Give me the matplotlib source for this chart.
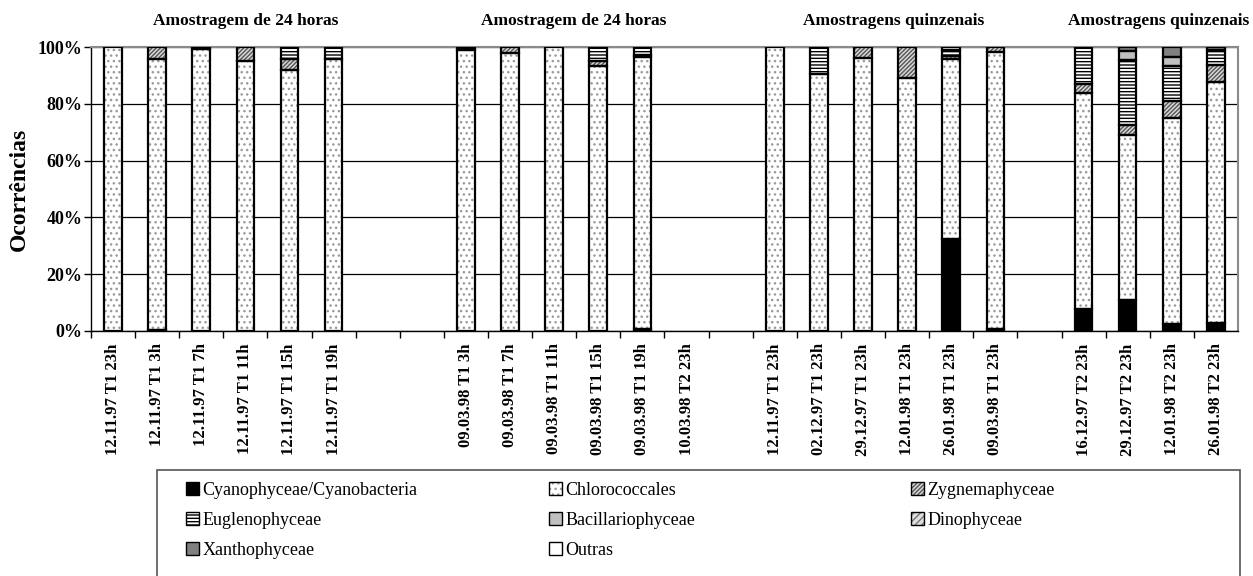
import matplotlib.pyplot as plt
from matplotlib.patches import Patch, Rectangle
import matplotlib.transforms as mtransforms
import numpy as np

plt.rcParams['font.family'] = ['Liberation Serif', 'DejaVu Serif']

# Sample labels (empty strings are gaps between groups)
labels = ["12.11.97 T1 23h", "12.11.97 T1 3h", "12.11.97 T1 7h", "12.11.97 T1 11h",
          "12.11.97 T1 15h", "12.11.97 T1 19h", "", "",
          "09.03.98 T1 3h", "09.03.98 T1 7h", "09.03.98 T1 11h", "09.03.98 T1 15h",
          "09.03.98 T1 19h", "10.03.98 T2 23h", "",
          "12.11.97 T1 23h", "02.12.97 T1 23h", "29.12.97 T1 23h", "12.01.98 T1 23h",
          "26.01.98 T1 23h", "09.03.98 T1 23h", "",
          "16.12.97 T2 23h", "29.12.97 T2 23h", "12.01.98 T2 23h", "26.01.98 T2 23h"]

# Percentages
cyano   = [0, 0.3, 0, 0, 0, 0, 0, 0, 0, 0, 0, 0, 0.7, 0, 0, 0, 0, 0, 0, 32.3, 0.5, 0, 7.6, 10.9, 2.4, 2.6]
chloro  = [100, 95.6, 99.5, 95.3, 92, 95.8, 0, 0, 99, 97.9, 100, 93.5, 95.8, 0, 0,
           100, 90.6, 96.1, 89.1, 63.6, 97.7, 0, 76.2, 58.3, 72.6, 85.3]
zygnema = [0, 4.1, 0.5, 4.7, 4.0, 0, 0, 0, 0, 2.1, 0, 1.8, 0.8, 0, 0,
           0, 0, 3.9, 10.9, 1.0, 1.8, 0, 3.3, 3.5, 6.2, 5.9]
eugleno = [0, 0, 0, 0, 4.0, 4.2, 0, 0, 1.0, 0, 0, 4.7, 2.7, 0, 0,
           0, 9.4, 0, 0, 2.0, 0, 0, 12.9, 22.9, 12.3, 5.1]
bacil   = [0] * 23 + [2.9, 3.2, 0]
dino    = [0] * 26
xantho  = [0] * 23 + [1.5, 3.3, 1.2]
outras  = [0] * 19 + [1.1] + [0] * 6

group_titles = ["Amostragem de 24 horas", "Amostragem de 24 horas",
                "Amostragens quinzenais", "Amostragens quinzenais"]
group_centers = [3.0, 10.45, 17.7, 23.7]

series = [
    ("Cyanophyceae/Cyanobacteria", cyano, "black", None, "black"),
    ("Chlorococcales", chloro, "white", "...", "#9a9a9a"),
    ("Zygnemaphyceae", zygnema, "#d8d8d8", "////////", "#555555"),
    ("Euglenophyceae", eugleno, "white", "-----", "black"),
    ("Bacillariophyceae", bacil, "#c0c0c0", None, "#c0c0c0"),
    ("Dinophyceae", dino, "#e0e0e0", "/////", "#777777"),
    ("Xanthophyceae", xantho, "#808080", None, "#808080"),
    ("Outras", outras, "white", None, "white"),
]

fig = plt.figure(figsize=(12.53, 5.76), dpi=100)
ax = fig.add_axes([0.0726, 0.4257, 0.9154, 0.4923])

x = np.arange(len(labels))
bottom = np.zeros(len(labels))
handles = []
for name, vals, face, hatch, hcol in series:
    vals = np.array(vals, dtype=float)
    m = vals > 0
    if m.any():
        ax.bar(x[m], vals[m], bottom=bottom[m], width=0.4, color=face,
               hatch=hatch, edgecolor=hcol, linewidth=0, zorder=3)
        ax.bar(x[m], vals[m], bottom=bottom[m], width=0.4, fill=False,
               edgecolor="black", linewidth=1.6, zorder=4)
    bottom += vals
    handles.append((Patch(facecolor=face, hatch=hatch, edgecolor=hcol, linewidth=0),
                    Patch(fill=False, edgecolor="black", linewidth=1.0)))

ax.set_xlim(-0.5, len(labels) - 0.5)
ax.set_ylim(0, 100)
ax.set_yticks([0, 20, 40, 60, 80, 100])
ax.set_yticklabels(["0%", "20%", "40%", "60%", "80%", "100%"], fontweight="bold", fontsize=13)
ax.yaxis.grid(True, color="black", linewidth=0.9, zorder=0)
ax.set_axisbelow(True)

ax.set_xticks(x - 0.5, minor=False)
ax.set_xticklabels([])
ax.set_xticks(x, minor=True)
ax.set_xticklabels(labels, minor=True, rotation=90, fontweight="bold", fontsize=12)
ax.tick_params(axis="x", which="minor", length=0, pad=9)
ax.tick_params(axis="x", which="major", length=5, direction="out", width=1)
ax.tick_params(axis="y", length=5, direction="out", width=1, pad=1)

for s in ["left", "bottom"]:
    ax.spines[s].set_color("black")
    ax.spines[s].set_linewidth(1.0)
for s in ["top", "right"]:
    ax.spines[s].set_color("#8a8a8a")
    ax.spines[s].set_linewidth(1.5)

ax.set_ylabel("Ocorrências", fontweight="bold", fontsize=17, labelpad=6)

trans = mtransforms.blended_transform_factory(ax.transData, ax.transAxes)
for t, c in zip(group_titles, group_centers):
    ax.text(c, 1.093, t, transform=trans, ha="center", va="center",
            fontweight="bold", fontsize=12.5)

# legend: frame plus one legend per column, filled row-wise like the original
fig.patches.append(Rectangle((157 / 1253, -0.05), (1240 - 157) / 1253, 1 - 470 / 576 + 0.05,
                             transform=fig.transFigure, fill=False,
                             edgecolor="#555555", linewidth=1.2))
names = [s[0] for s in series]
col_x = [186, 549, 911]
for c in range(3):
    idx = list(range(c, len(series), 3))
    fig.legend([handles[i] for i in idx], [names[i] for i in idx],
               loc="upper left", bbox_to_anchor=(col_x[c] / 1253, 1 - 482 / 576),
               frameon=False, fontsize=13, handlelength=0.7, handleheight=0.7,
               handletextpad=0.2, labelspacing=0.72, borderpad=0, borderaxespad=0)

fig.savefig("out.png", dpi=100)
